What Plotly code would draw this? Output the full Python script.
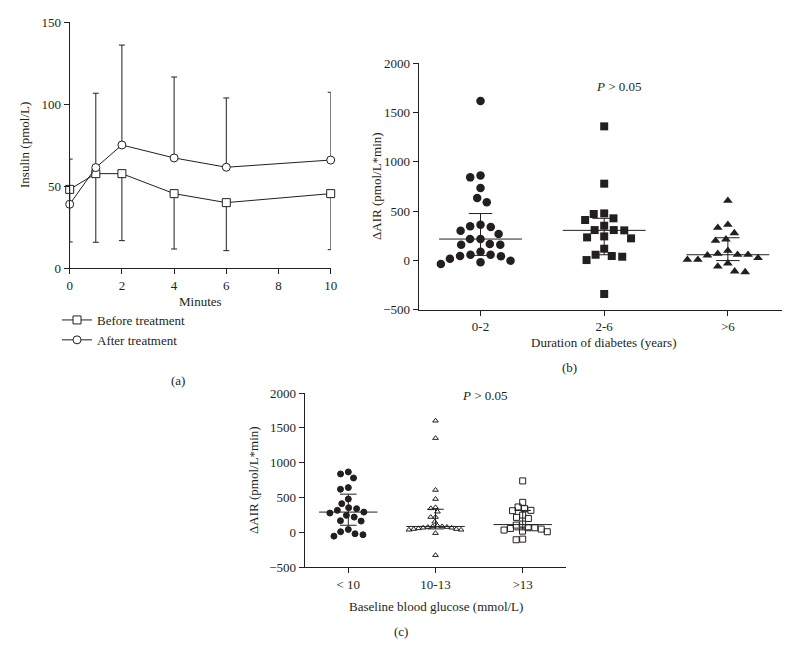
import numpy as np
import plotly.graph_objects as go

# ---------------- data ----------------
minutes = [0, 1, 2, 4, 6, 10]
before_mean = [48.0, 57.6, 57.6, 45.4, 39.9, 45.4]
before_sd = [32.1, 41.9, 40.9, 33.8, 29.3, 34.2]
after_mean = [38.9, 61.3, 75.1, 67.2, 61.5, 65.9]
after_sd = [27.6, 45.4, 61.0, 49.4, 42.3, 41.4]

duration_labels = ["0-2", "2-6", ">6"]
air_dur_0_2 = [1615, 861, 841, 733, 632, 588, 361, 345, 338, 301, 267, 216, 216,
               166, 159, 159, 88, 57, 57, 44, 41, 17, -3, -20, -37]
air_dur_2_6 = [1358, 777, 476, 470, 426, 409, 351, 307, 307, 304, 243, 233, 223,
               118, 57, 44, 37, 3, -341]
air_dur_gt6 = [605, 361, 331, 277, 213, 199, 98, 68, 57, 57, 51, 24, 7, 7,
               -30, -61, -111, -118]

glucose_labels = ["< 10", "10-13", ">13"]
air_glu_lt10 = [868, 839, 781, 643, 619, 479, 413, 355, 341, 317, 292, 278, 245,
                220, 168, 163, 43, 10, -19, -33, -53]
air_glu_10_13 = [1602, 1353, 609, 479, 360, 345, 297, 221, 221, 153, 96, 86, 86,
                 77, 77, 67, 67, 58, 48, 48, 38, 38, -10, -326]
air_glu_gt13 = [739, 432, 365, 341, 317, 312, 249, 216, 201, 120, 105, 67, 67,
                58, 48, 34, 19, 10, -96, -105]

# ---------------- helpers ----------------
W, H = 790, 650
INK = "#231f20"
FONT = "Liberation Serif"


def px(x):
    return x / W


def py(y):
    return 1 - y / H


def swarm(values, px_per_x, px_per_y, d):
    """Classic beeswarm: offsets (in x data units) so markers do not overlap."""
    order = sorted(range(len(values)), key=lambda i: -values[i])
    placed = []
    offs = [0.0] * len(values)
    for i in order:
        y = values[i] * px_per_y
        cands = [0.0]
        for (qx, qy) in placed:
            dy = abs(qy - y)
            if dy < d:
                dx = np.sqrt(d * d - dy * dy)
                cands += [qx + dx, qx - dx]
        cands.sort(key=lambda c: (round(abs(c), 6), c))
        for c in cands:
            if all((c - qx) ** 2 + (y - qy) ** 2 >= d * d - 1e-6 for qx, qy in placed):
                placed.append((c, y))
                offs[i] = c / px_per_x
                break
    return offs


def summary_lines(groups, half=0.335, cap=0.095):
    xs, ys = [], []
    for i, vals in enumerate(groups):
        q1, med, q3 = np.percentile(vals, [25, 50, 75], method="weibull")
        xs += [i - half, i + half, None, i, i, None,
               i - cap, i + cap, None, i - cap, i + cap, None]
        ys += [med, med, None, q1, q3, None, q1, q1, None, q3, q3, None]
    return xs, ys


fig = go.Figure()

# ---------------- panel (a) ----------------
fig.add_trace(go.Scatter(
    x=minutes, y=before_mean, name="Before treatment", mode="lines+markers",
    line=dict(color=INK, width=1),
    marker=dict(symbol="square", size=8, color="white", line=dict(color=INK, width=1)),
    error_y=dict(type="data", symmetric=False, array=[0] * len(minutes),
                 arrayminus=before_sd, color=INK, thickness=1, width=3),
    cliponaxis=False, xaxis="x", yaxis="y"))
fig.add_trace(go.Scatter(
    x=minutes, y=after_mean, name="After treatment", mode="lines+markers",
    line=dict(color=INK, width=1),
    marker=dict(symbol="circle", size=8, color="white", line=dict(color=INK, width=1)),
    error_y=dict(type="data", symmetric=False, array=after_sd,
                 arrayminus=[0] * len(minutes), color=INK, thickness=1, width=3),
    cliponaxis=False, xaxis="x", yaxis="y"))

# ---------------- panel (b) ----------------
b_px_x, b_px_y = 123.7, 49.3 / 500
b_groups = [air_dur_0_2, air_dur_2_6, air_dur_gt6]
b_symbols = ["circle", "square", "triangle-up"]
for i, (vals, sym) in enumerate(zip(b_groups, b_symbols)):
    offs = swarm(vals, b_px_x, b_px_y, 10.5)
    fig.add_trace(go.Scatter(
        x=[i + o for o in offs], y=vals, mode="markers", showlegend=False,
        marker=dict(symbol=sym, size=8.5 if sym != "square" else 8, color=INK,
                    line=dict(width=0)),
        cliponaxis=False, xaxis="x2", yaxis="y2"))
lx, ly = summary_lines(b_groups)
fig.add_trace(go.Scatter(x=lx, y=ly, mode="lines", showlegend=False,
                         line=dict(color=INK, width=1), xaxis="x2", yaxis="y2"))

# ---------------- panel (c) ----------------
c_px_x, c_px_y = 87.2, 174.3 / 2500
c_groups = [air_glu_lt10, air_glu_10_13, air_glu_gt13]
c_styles = [("circle", 6, INK, 8.0), ("triangle-up-open", 5, INK, 4.8),
            ("square-open", 6, INK, 6.6)]
for i, (vals, (sym, sz, col, d)) in enumerate(zip(c_groups, c_styles)):
    offs = swarm(vals, c_px_x, c_px_y, d)
    fig.add_trace(go.Scatter(
        x=[i + o for o in offs], y=vals, mode="markers", showlegend=False,
        marker=dict(symbol=sym, size=sz, color=col, line=dict(color=col, width=1)),
        cliponaxis=False, xaxis="x3", yaxis="y3"))
lx, ly = summary_lines(c_groups)
fig.add_trace(go.Scatter(x=lx, y=ly, mode="lines", showlegend=False,
                         line=dict(color=INK, width=1), xaxis="x3", yaxis="y3"))

# ---------------- layout ----------------
axis_common = dict(showline=True, linecolor=INK, linewidth=1, ticks="outside",
                   ticklen=5, tickwidth=1, tickcolor=INK, showgrid=False,
                   zeroline=False, tickfont=dict(family=FONT, size=13, color=INK))

fig.update_layout(
    width=W, height=H, margin=dict(l=0, r=0, t=0, b=0),
    paper_bgcolor="white", plot_bgcolor="white", template="none",
    font=dict(family=FONT, size=13, color=INK),
    showlegend=True,
    legend=dict(x=px(49), y=py(297), xanchor="left", yanchor="top",
                bgcolor="rgba(0,0,0,0)", itemwidth=30, tracegroupgap=0,
                font=dict(family=FONT, size=13, color=INK)),
    xaxis=dict(domain=[px(61.7), px(322.7)], range=[0, 10], tickvals=[0, 2, 4, 6, 8, 10],
               anchor="y", **axis_common),
    yaxis=dict(domain=[py(260), py(14.3)], range=[0, 150], tickvals=[0, 50, 100, 150],
               anchor="x", **axis_common),
    xaxis2=dict(domain=[px(410.7), px(781.7)], range=[-0.5, 2.5], tickvals=[0, 1, 2],
                ticktext=duration_labels, anchor="y2", **axis_common),
    yaxis2=dict(domain=[py(301.7), py(55)], range=[-500, 2000], dtick=500,
                anchor="x2", **axis_common),
    xaxis3=dict(domain=[px(296.7), px(558.3)], range=[-0.5, 2.5], tickvals=[0, 1, 2],
                ticktext=glucose_labels, anchor="y3", **axis_common),
    yaxis3=dict(domain=[py(559.3), py(385)], range=[-500, 2000], dtick=500,
                anchor="x3", **axis_common),
)

annots = [
    dict(text="Insulin (pmol/L)", x=px(16), y=py(137), textangle=-90),
    dict(text="Minutes", x=px(192), y=py(293)),
    dict(text="(a)", x=px(170), y=py(372)),
    dict(text="ΔAIR (pmol/L*min)", x=px(368), y=py(178), textangle=-90),
    dict(text="<i>P</i> > 0.05", x=px(611), y=py(78)),
    dict(text="Duration of diabetes (years)", x=px(595), y=py(334)),
    dict(text="(b)", x=px(561), y=py(359)),
    dict(text="ΔAIR (pmol/L*min)", x=px(245), y=py(472), textangle=-90),
    dict(text="<i>P</i> > 0.05", x=px(477), y=py(387)),
    dict(text="Baseline blood glucose (mmol/L)", x=px(427.5), y=py(598)),
    dict(text="(c)", x=px(393), y=py(623)),
]
for a in annots:
    fig.add_annotation(xref="paper", yref="paper", xanchor="center", yanchor="middle",
                       showarrow=False, font=dict(family=FONT, size=13, color=INK), **a)

fig.write_html("out.html")
